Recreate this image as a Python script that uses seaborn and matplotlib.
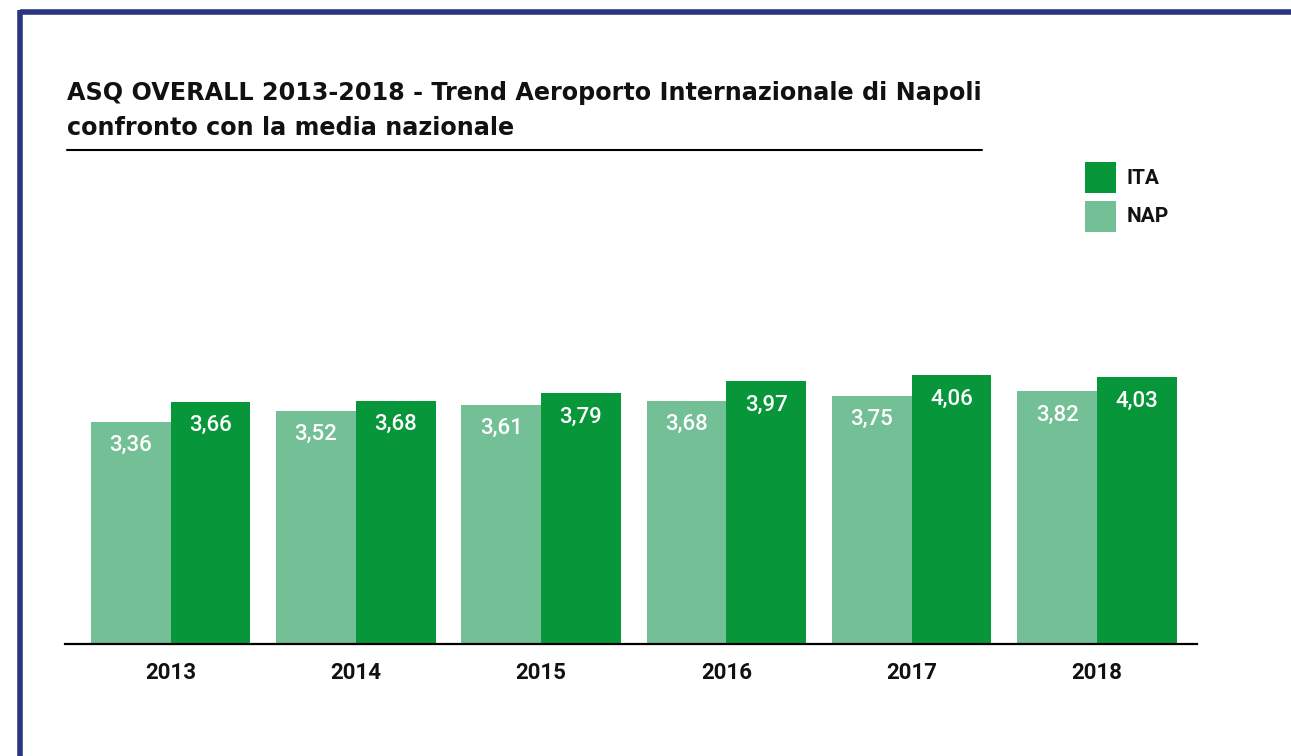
import matplotlib
matplotlib.use("Agg")
import matplotlib.pyplot as plt
import seaborn as sns
import pandas as pd
from matplotlib.patches import Rectangle
from matplotlib.lines import Line2D

years = ["2013", "2014", "2015", "2016", "2017", "2018"]
nap = [3.36, 3.52, 3.61, 3.68, 3.75, 3.82]
ita = [3.66, 3.68, 3.79, 3.97, 4.06, 4.03]
series = ["NAP", "ITA"]
title_lines = ["ASQ OVERALL 2013-2018 - Trend Aeroporto Internazionale di Napoli",
               "confronto con la media nazionale"]

c_nap = "#74c096"
c_ita = "#07973a"

df = pd.DataFrame({
    "year": years * 2,
    "series": ["NAP"] * len(years) + ["ITA"] * len(years),
    "value": nap + ita,
})

sns.set_theme(style="white")
plt.rcParams["font.family"] = ["Roboto", "DejaVu Sans"]

W, H = 1291, 756
fig = plt.figure(figsize=(W / 100, H / 100), dpi=100)
fig.patch.set_facecolor("white")

def fx(px):
    return px / W

def fy(py):
    return 1 - py / H

ax = fig.add_axes([fx(65), fy(644), fx(1197) - fx(65), fy(300) - fy(644)])
sns.barplot(data=df, x="year", y="value", hue="series", hue_order=series,
            palette={"NAP": c_nap, "ITA": c_ita}, width=0.86, ax=ax,
            saturation=1, legend=False, edgecolor="none", linewidth=0)

ax.set_xlim(-0.57, 5.54)
ax.set_ylim(0, 5.2)
ax.set_xlabel("")
ax.set_ylabel("")
ax.set_yticks([])
for s in ["top", "right", "left"]:
    ax.spines[s].set_visible(False)
ax.spines["bottom"].set_color("black")
ax.spines["bottom"].set_linewidth(1.6)
ax.tick_params(axis="x", length=0, pad=13)
for lab in ax.get_xticklabels():
    lab.set_fontsize(16)
    lab.set_fontweight("bold")
    lab.set_color("#111111")

for cont in ax.containers:
    for p in cont.patches:
        h = p.get_height()
        ax.annotate(f"{h:.2f}".replace(".", ","),
                    (p.get_x() + p.get_width() / 2, h),
                    xytext=(0, -17), textcoords="offset points",
                    ha="center", va="center", color="white", fontsize=16,
                    fontweight="medium")

# Title
title_font = dict(family=["DejaVu Sans"], fontsize=17.2, fontweight="bold",
                  color="#111111", ha="left", va="baseline")
fig.text(fx(67), fy(100), title_lines[0], **title_font)
fig.text(fx(67), fy(135), title_lines[1], **title_font)
fig.add_artist(Line2D([fx(67), fx(982)], [fy(150), fy(150)], color="black", lw=1.5))

# Legend
for i, (name, col) in enumerate([("ITA", c_ita), ("NAP", c_nap)]):
    y0 = 162 + i * 39
    fig.add_artist(Rectangle((fx(1085), fy(y0 + 31)), fx(31), 31 / H,
                             facecolor=col, edgecolor="none"))
    fig.text(fx(1127), fy(y0 + 16), name, fontsize=15, fontweight="bold",
             color="#111111", ha="left", va="center")

# Border
navy = "#2a3580"
fig.add_artist(Line2D([fx(19.5), fx(W + 5)], [fy(12), fy(12)], color=navy, lw=4,
                      solid_capstyle="butt"))
fig.add_artist(Line2D([fx(19.5), fx(19.5)], [fy(10), fy(H + 5)], color=navy, lw=4,
                      solid_capstyle="butt"))

fig.savefig("out.png", dpi=100, facecolor="white")
